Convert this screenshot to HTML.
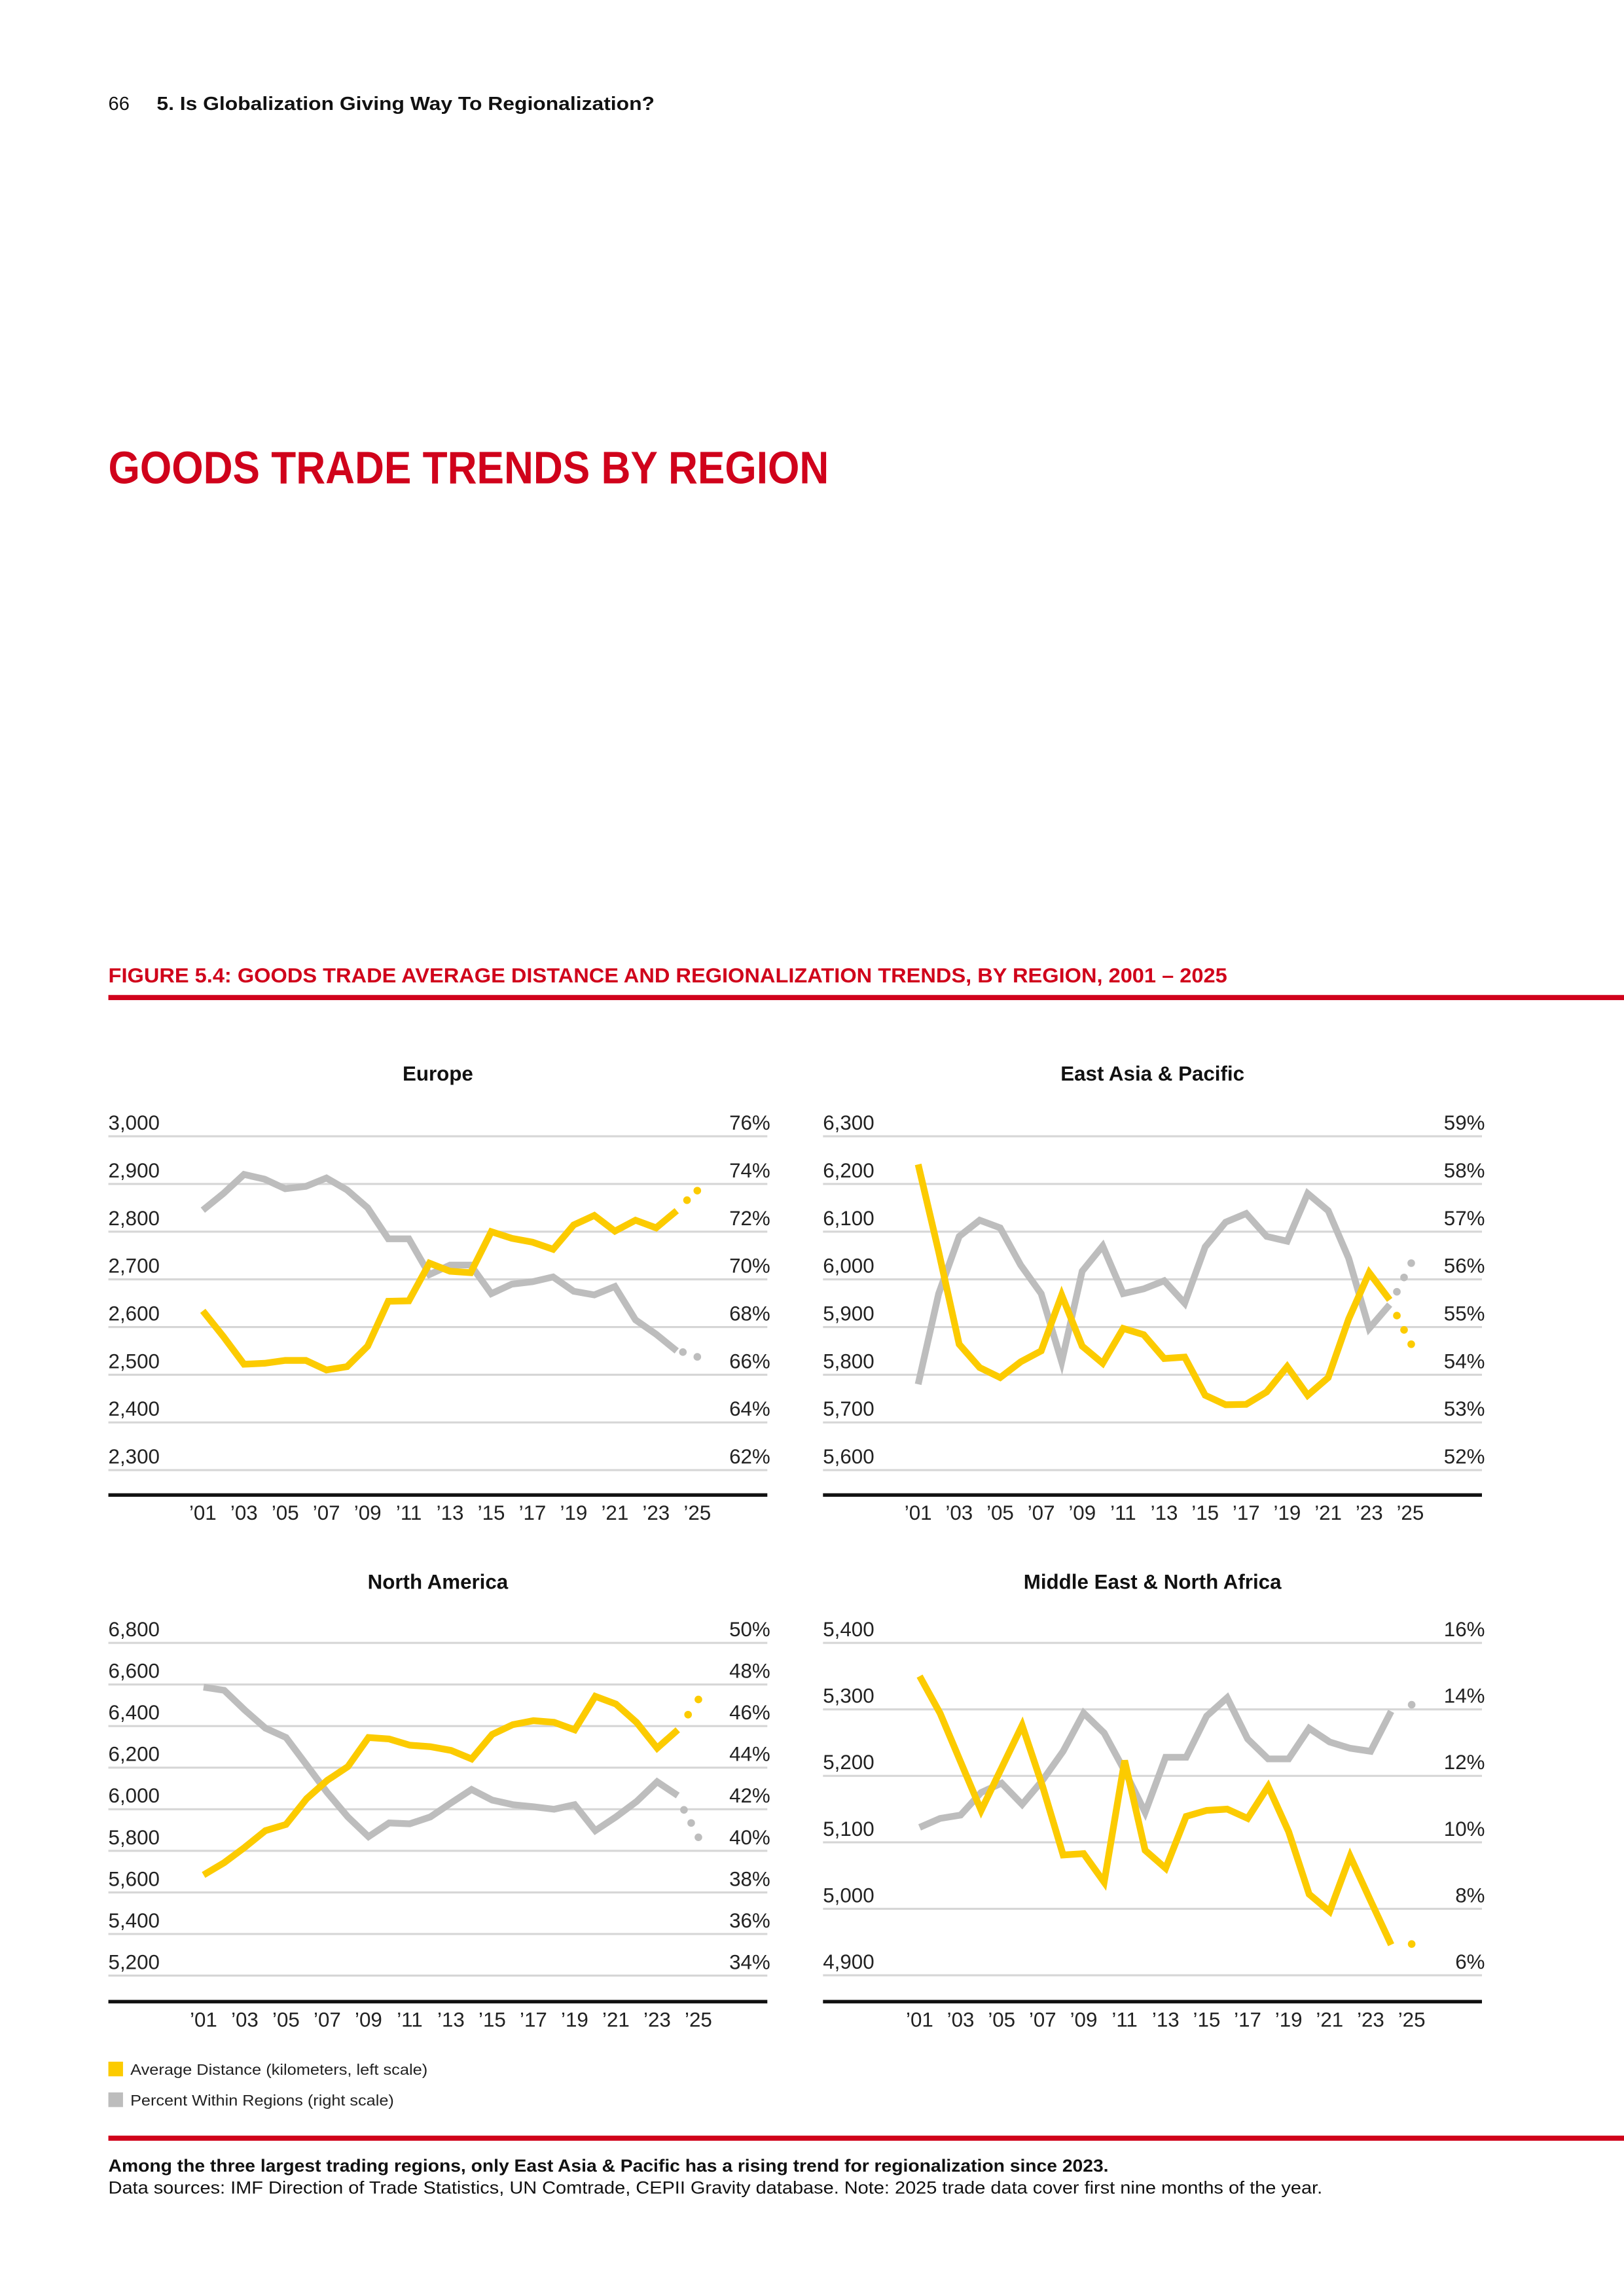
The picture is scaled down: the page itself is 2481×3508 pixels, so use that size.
<!DOCTYPE html>
<html><head><meta charset="utf-8"><style>
html,body{margin:0;padding:0;background:#fff}
svg{display:block}
text{font-family:"Liberation Sans",sans-serif}
</style></head><body>
<svg id="s" width="2481" height="3508" viewBox="0 0 1109 1568" xmlns="http://www.w3.org/2000/svg">
<rect width="1109" height="1568" fill="#fff"/>
<text x="74" y="75" font-size="13" fill="#111">66</text>
<text x="107" y="75" font-size="13" font-weight="bold" fill="#111" textLength="340" lengthAdjust="spacingAndGlyphs">5. Is Globalization Giving Way To Regionalization?</text>
<text x="74" y="330" font-size="31" font-weight="bold" fill="#d0021b" textLength="492" lengthAdjust="spacingAndGlyphs">GOODS TRADE TRENDS BY REGION</text>
<text x="74" y="671" font-size="14" font-weight="bold" fill="#d0021b" textLength="764" lengthAdjust="spacingAndGlyphs">FIGURE 5.4: GOODS TRADE AVERAGE DISTANCE AND REGIONALIZATION TRENDS, BY REGION, 2001 – 2025</text>
<rect x="74" y="679.5" width="1035" height="3.5" fill="#d0021b"/>
<rect x="74" y="1408" width="10" height="10" fill="#fccb00"/>
<text x="89" y="1417" font-size="10.5" fill="#222" textLength="203" lengthAdjust="spacingAndGlyphs">Average Distance (kilometers, left scale)</text>
<rect x="74" y="1429" width="10" height="10" fill="#bdbdbd"/>
<text x="89" y="1438" font-size="10.5" fill="#222" textLength="180" lengthAdjust="spacingAndGlyphs">Percent Within Regions (right scale)</text>
<rect x="74" y="1458.5" width="1035" height="3.5" fill="#d0021b"/>
<text x="74" y="1483" font-size="12" font-weight="bold" fill="#111" textLength="683" lengthAdjust="spacingAndGlyphs">Among the three largest trading regions, only East Asia &amp; Pacific has a rising trend for regionalization since 2023.</text>
<text x="74" y="1498" font-size="12" fill="#111" textLength="829" lengthAdjust="spacingAndGlyphs">Data sources: IMF Direction of Trade Statistics, UN Comtrade, CEPII Gravity database. Note: 2025 trade data cover first nine months of the year.</text>
<g id="charts"></g>
</svg>
<script>
var NS="http://www.w3.org/2000/svg",G=document.getElementById("charts");
function el(t,a,txt){var e=document.createElementNS(NS,t);for(var k in a)e.setAttribute(k,a[k]);if(txt!=null)e.textContent=txt;G.appendChild(e);return e;}
function chart(c){
 el("text",{x:c.cx,y:c.ty,"font-size":14,"font-weight":"bold","text-anchor":"middle",fill:"#111"},c.title);
 var n=c.left.length;
 for(var i=0;i<n;i++){var y=c.top+i*c.sp;
  el("rect",{x:c.x0,y:y-0.7,width:c.x1-c.x0,height:1.4,fill:"#d6d6d6"});
  el("text",{x:c.x0,y:y-4.5,"font-size":14,fill:"#222"},c.left[i]);
  el("text",{x:c.x1+2,y:y-4.5,"font-size":14,fill:"#222","text-anchor":"end"},c.right[i]);}
 el("rect",{x:c.x0,y:c.ax-1.2,width:c.x1-c.x0,height:2.4,fill:"#111"});
 for(var yr=1;yr<=25;yr+=2){var s=(yr<10?"0":"")+yr;
  el("text",{x:c.X(yr-1),y:c.ax+17,"font-size":14,fill:"#222","text-anchor":"middle"},"\u2019"+s);}
 function line(d,f,col,dots){var p="";for(var i=0;i<d.length;i++)p+=(i?"L":"M")+c.X(i).toFixed(2)+","+f(d[i]).toFixed(2);
  el("path",{d:p,fill:"none",stroke:col,"stroke-width":4.6,"stroke-linejoin":"miter","stroke-linecap":"butt"});
  dots.forEach(function(q){el("circle",{cx:c.X(q[0]),cy:f(q[1]),r:2.6,fill:col});});}
 line(c.gray,c.R,"#bdbdbd",c.gd);
 line(c.yel,c.L,"#fccb00",c.yd);
}
chart({title:"Europe",cx:299,ty:738,x0:74,x1:524,top:776,sp:32.57,ax:1021,
 left:["3,000","2,900","2,800","2,700","2,600","2,500","2,400","2,300"],
 right:["76%","74%","72%","70%","68%","66%","64%","62%"],
 X:function(i){return 138.5+i*14.07},
 L:function(v){return 776+(3000-v)*0.3257},R:function(p){return 776+(76-p)*16.285},
 yel:[2634,2580,2522,2524,2530,2530,2510,2517,2560,2654,2655,2734,2717,2714,2800,2786,2778,2763,2814,2834,2801,2824,2808,2844],
 yd:[[23.5,2866],[24,2886]],
 gray:[72.9,73.6,74.4,74.2,73.8,73.9,74.25,73.75,73.0,71.7,71.7,70.2,70.6,70.6,69.4,69.8,69.9,70.1,69.5,69.35,69.7,68.3,67.7,67.0],
 gd:[[23.3,66.95],[24,66.75]]});
chart({title:"East Asia & Pacific",cx:787,ty:738,x0:562,x1:1012,top:776,sp:32.57,ax:1021,
 left:["6,300","6,200","6,100","6,000","5,900","5,800","5,700","5,600"],
 right:["59%","58%","57%","56%","55%","54%","53%","52%"],
 X:function(i){return 627+i*14.0},
 L:function(v){return 776+(6300-v)*0.3257},R:function(p){return 776+(59-p)*32.57},
 yel:[6241,6058,5864,5815,5794,5827,5850,5967,5860,5824,5897,5884,5834,5837,5757,5737,5738,5764,5817,5757,5794,5917,6014,5957],
 yd:[[23.35,5924],[23.7,5894],[24.05,5864]],
 gray:[53.8,55.7,56.9,57.24,57.08,56.3,55.7,54.27,56.17,56.7,55.7,55.8,55.97,55.5,56.68,57.2,57.38,56.9,56.8,57.8,57.44,56.44,54.97,55.47],
 gd:[[23.35,55.74],[23.7,56.04],[24.05,56.34]]});
chart({title:"North America",cx:299,ty:1085,x0:74,x1:524,top:1122,sp:28.4,ax:1367,
 left:["6,800","6,600","6,400","6,200","6,000","5,800","5,600","5,400","5,200"],
 right:["50%","48%","46%","44%","42%","40%","38%","36%","34%"],
 X:function(i){return 139+i*14.08},
 L:function(v){return 1122+(6800-v)*0.142},R:function(p){return 1122+(50-p)*14.2},
 yel:[5684,5743,5817,5897,5927,6051,6139,6205,6345,6338,6308,6301,6283,6242,6360,6407,6426,6418,6382,6543,6506,6418,6294,6382],
 yd:[[23.5,6455],[24,6528]],
 gray:[47.87,47.72,46.77,45.9,45.45,44.13,42.8,41.63,40.68,41.34,41.3,41.63,42.3,42.95,42.44,42.22,42.12,42.0,42.22,40.97,41.63,42.37,43.32,42.66],
 gd:[[23.3,41.97],[23.65,41.34],[24,40.65]]});
chart({title:"Middle East & North Africa",cx:787,ty:1085,x0:562,x1:1012,top:1122,sp:45.4,ax:1367,
 left:["5,400","5,300","5,200","5,100","5,000","4,900"],
 right:["16%","14%","12%","10%","8%","6%"],
 X:function(i){return 628+i*14.0},
 L:function(v){return 1122+(5400-v)*0.454},R:function(p){return 1122+(16-p)*22.7},
 yel:[5350,5294,5221,5148,5212,5276,5184,5081,5083,5040,5223,5088,5061,5139,5148,5150,5136,5184,5116,5022,4996,5079,5012,4946],
 yd:[[24,4947]],
 gray:[10.45,10.72,10.82,11.5,11.78,11.14,11.87,12.74,13.89,13.29,12.15,10.9,12.56,12.56,13.8,14.35,13.11,12.51,12.51,13.43,13.02,12.83,12.74,13.94],
 gd:[[24,14.14]]});
</script>
</body></html>
